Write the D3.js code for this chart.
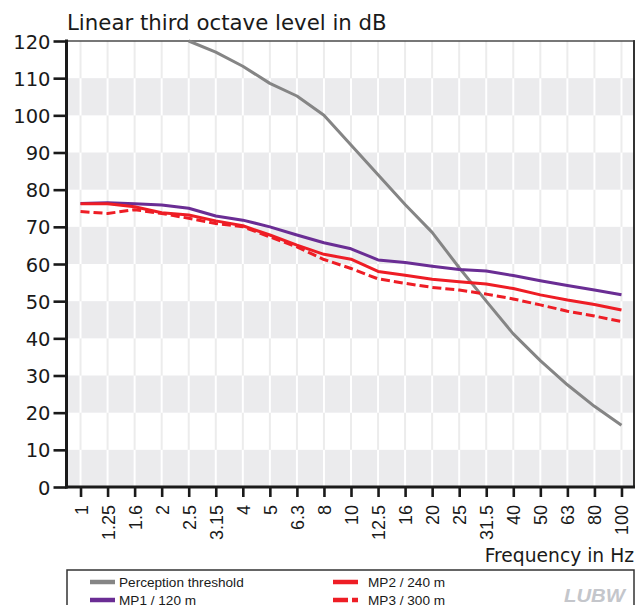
<!DOCTYPE html>
<html>
<head>
<meta charset="utf-8">
<script src="https://cdn.jsdelivr.net/npm/d3@7"></script>
<style>
  html, body { margin: 0; padding: 0; background: #fff; }
  svg { display: block; }
</style>
</head>
<body>
<svg id="chart" width="638" height="605"></svg>
<script>
// ---------- data ----------
const frequencies = ["1","1.25","1.6","2","2.5","3.15","4","5","6.3","8","10","12.5","16","20","25","31.5","40","50","63","80","100"];
const perceptionThreshold = [null,null,null,null,120,117,113.2,108.6,105.2,100,92,84,76,68.5,59,50,41.2,34,27.5,21.7,16.6];
const mp1 = [76.3,76.5,76.2,75.9,75,72.9,71.8,70,67.8,65.7,64.1,61.1,60.4,59.4,58.5,58.1,56.9,55.5,54.2,53,51.7];
const mp2 = [76.2,76.2,75.4,73.8,73.2,71.6,70.3,67.8,65.1,62.6,61.3,58,57,55.9,55.2,54.6,53.4,51.7,50.3,49.1,47.6];
const mp3 = [74.1,73.6,74.6,73.6,72.3,70.9,70,67.3,64.6,61.2,58.8,56,54.8,53.7,53,51.9,50.6,49,47.3,46,44.5];
const yTicks = [0,10,20,30,40,50,60,70,80,90,100,110,120];
const series = [
  { name: "Perception threshold", values: perceptionThreshold, color: "#858585", dash: null },
  { name: "MP1 / 120 m", values: mp1, color: "#6a2d94", dash: null },
  { name: "MP2 / 240 m", values: mp2, color: "#ee1d25", dash: null },
  { name: "MP3 / 300 m", values: mp3, color: "#ee1d25", dash: "9,4" }
];

// ---------- layout ----------
const L = 67, R = 634, T = 41, B = 487;
const svg = d3.select("#chart");
const x = d3.scalePoint().domain(frequencies).range([L, R + 1]).padding(0.5);
const y = d3.scaleLinear().domain([0, 120]).range([B, T]);

// background bands
const bandStarts = [0, 20, 40, 60, 80, 100];
const g = svg.append("g");
g.append("rect").attr("x", L).attr("y", T).attr("width", R - L).attr("height", B - T).attr("fill", "#ffffff");
g.selectAll("rect.band").data(bandStarts).join("rect")
  .attr("class", "band")
  .attr("x", L).attr("width", R - L)
  .attr("y", d => y(d + 10)).attr("height", d => y(d) - y(d + 10))
  .attr("fill", "#ebebed");

// vertical grid lines, per 10 dB segment
const segs = [];
for (let v = 0; v < 120; v += 10) frequencies.forEach(f => segs.push({ f, v }));
g.selectAll("line.vg").data(segs).join("line")
  .attr("x1", d => x(d.f)).attr("x2", d => x(d.f))
  .attr("y1", d => y(d.v)).attr("y2", d => y(d.v + 10))
  .attr("stroke", d => (Math.floor(d.v / 10) % 2 === 0) ? "#ffffff" : "#ececec")
  .attr("stroke-width", 2);

// frame: top and right
svg.append("line").attr("x1", L).attr("x2", R + 1).attr("y1", T).attr("y2", T)
  .attr("stroke", "#4a4a4a").attr("stroke-width", 1.6);
svg.append("line").attr("x1", R).attr("x2", R).attr("y1", T - 0.8).attr("y2", B)
  .attr("stroke", "#333").attr("stroke-width", 2);

// lines
const line = d3.line()
  .defined(d => d.v !== null)
  .x(d => x(d.f)).y(d => y(d.v));
series.forEach(s => {
  svg.append("path")
    .datum(frequencies.map((f, i) => ({ f, v: s.values[i] })))
    .attr("d", line)
    .attr("fill", "none")
    .attr("stroke", s.color)
    .attr("stroke-width", 3)
    .attr("stroke-dasharray", s.dash)
    .attr("stroke-linejoin", "round");
});

// axes
const yAxis = d3.axisLeft(y).tickValues(yTicks).tickSize(13).tickPadding(3);
const ya = svg.append("g").attr("transform", `translate(${L - 0.5},0)`).call(yAxis);
ya.select(".domain").remove();
ya.selectAll(".tick line").attr("stroke", "#1a1a1a").attr("stroke-width", 2.6);
ya.selectAll(".tick text").attr("font-family", "DejaVu Sans, sans-serif").attr("font-size", 19.5)
  .attr("fill", "#1a1a1a").attr("dy", "0.36em");

const xAxis = d3.axisBottom(x).tickSize(10).tickPadding(8);
const xa = svg.append("g").attr("transform", `translate(0,${B})`).call(xAxis);
xa.select(".domain").remove();
xa.selectAll(".tick line").attr("stroke", "#1a1a1a").attr("stroke-width", 2.6);
xa.selectAll(".tick text")
  .attr("font-family", "Liberation Sans, Arial, sans-serif").attr("font-size", 18)
  .attr("fill", "#1a1a1a")
  .attr("transform", "rotate(-90)")
  .attr("text-anchor", "end")
  .attr("x", -18).attr("y", 0).attr("dy", "0.36em");

// axis lines (thick)
svg.append("line").attr("x1", L - 0.5).attr("x2", L - 0.5).attr("y1", T - 1.5).attr("y2", B + 1.5)
  .attr("stroke", "#1a1a1a").attr("stroke-width", 3);
svg.append("line").attr("x1", L - 2).attr("x2", R + 1).attr("y1", B).attr("y2", B)
  .attr("stroke", "#1a1a1a").attr("stroke-width", 3);

// titles
svg.append("text").attr("x", L).attr("y", 29.5)
  .attr("font-family", "DejaVu Sans, sans-serif").attr("font-size", 21.3).attr("fill", "#1a1a1a")
  .text("Linear third octave level in dB");
svg.append("text").attr("x", R).attr("y", 561.5).attr("text-anchor", "end")
  .attr("font-family", "DejaVu Sans, sans-serif").attr("font-size", 18.7).attr("fill", "#1a1a1a")
  .text("Frequency in Hz");

// legend
svg.append("rect").attr("x", L).attr("y", 570).attr("width", R - L).attr("height", 60)
  .attr("fill", "none").attr("stroke", "#333").attr("stroke-width", 1.5);
const legendPos = [
  { x: 90, y: 582 }, { x: 90, y: 600 }, { x: 333, y: 582 }, { x: 333, y: 600 }
];
series.forEach((s, i) => {
  const p = legendPos[i];
  svg.append("line").attr("x1", p.x).attr("x2", p.x + 25).attr("y1", p.y).attr("y2", p.y)
    .attr("stroke", s.color).attr("stroke-width", 4.5)
    .attr("stroke-dasharray", s.dash ? "15,4" : null);
  svg.append("text").attr("x", p.x + 29 + (i >= 2 ? 6 : 0)).attr("y", p.y + 5)
    .attr("font-family", "Liberation Sans, Arial, sans-serif").attr("font-size", 13.6)
    .attr("fill", "#1a1a1a").text(s.name);
});
svg.append("text").attr("x", 564).attr("y", 602)
  .attr("font-family", "Liberation Sans, Arial, sans-serif").attr("font-size", 19)
  .attr("font-weight", "bold").attr("font-style", "italic")
  .attr("textLength", 61).attr("lengthAdjust", "spacingAndGlyphs")
  .attr("fill", "#c4c6cb").text("LUBW");
</script>
</body>
</html>
